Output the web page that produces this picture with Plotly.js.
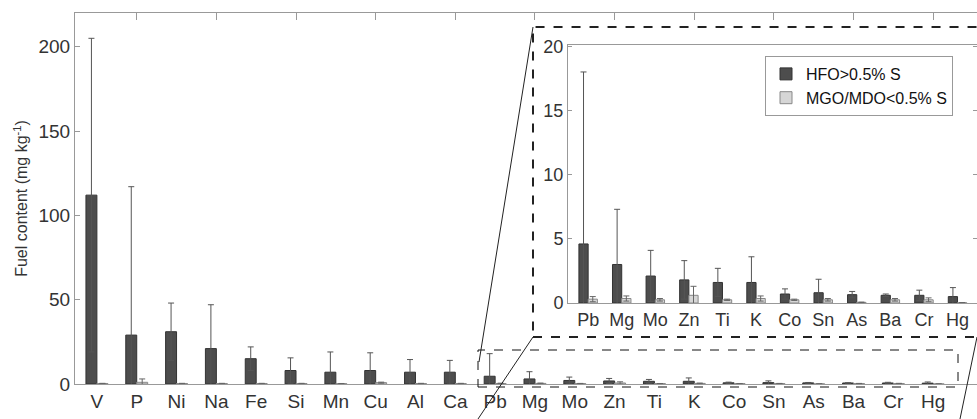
<!DOCTYPE html>
<html>
<head>
<meta charset="utf-8">
<script src="https://cdn.plot.ly/plotly-3.0.1.min.js"></script>
<style>html,body{margin:0;padding:0;background:#fff}#chart{width:977px;height:419px}</style>
</head>
<body>
<div id="chart"></div>
<script>
// Main panel: all elements
const elements = ['V', 'P', 'Ni', 'Na', 'Fe', 'Si', 'Mn', 'Cu', 'Al', 'Ca',
    'Pb', 'Mg', 'Mo', 'Zn', 'Ti', 'K', 'Co', 'Sn', 'As', 'Ba', 'Cr', 'Hg'];
const hfoMean = [112, 29, 31, 21, 15, 8, 7, 8, 7, 7,
    4.6, 3.0, 2.1, 1.8, 1.6, 1.6, 0.7, 0.8, 0.65, 0.6, 0.6, 0.5];
const hfoErr = [93, 88, 17, 26, 7, 7.5, 12, 10.5, 7.5, 7,
    13.4, 4.3, 2.0, 1.5, 1.1, 2.0, 0.4, 1.05, 0.25, 0.1, 0.4, 0.7];
const mgoMean = [0.3, 1.0, 0.3, 0.3, 0.3, 0.3, 0.2, 0.8, 0.3, 0.3,
    0.3, 0.35, 0.25, 0.6, 0.25, 0.35, 0.25, 0.25, 0.05, 0.25, 0.25, 0.02];
const mgoErr = [0.1, 2.0, 0.1, 0.1, 0.1, 0.1, 0.1, 0.3, 0.1, 0.1,
    0.2, 0.2, 0.1, 0.7, 0.05, 0.2, 0.05, 0.1, 0.02, 0.1, 0.15, 0.01];
const insetStart = 10; // Pb onwards

const idx = elements.map((_, i) => i + 1);
const insetIdx = idx.slice(insetStart).map(i => i - insetStart);

const hfoColor = '#4d4d4d', mgoColor = '#d6d6d6';
const errHfo = { type: 'data', visible: true, thickness: 1, width: 3, color: '#555' };
const errMgo = { type: 'data', visible: true, thickness: 1, width: 3, color: '#666' };

function barTrace(x, y, err, name, color, xa, ya, legend) {
    return {
        type: 'bar', x, y, name, xaxis: xa, yaxis: ya,
        marker: { color, line: { color: color === hfoColor ? '#333' : '#888', width: 1 } },
        error_y: { ...(color === hfoColor ? errHfo : errMgo), array: err },
        showlegend: legend, hoverinfo: 'skip'
    };
}

const traces = [
    barTrace(idx, hfoMean, hfoErr, 'HFO>0.5% S', hfoColor, 'x', 'y', false),
    barTrace(idx, mgoMean, mgoErr, 'MGO/MDO<0.5% S', mgoColor, 'x', 'y', false),
    barTrace(insetIdx, hfoMean.slice(insetStart), hfoErr.slice(insetStart), 'HFO>0.5% S', hfoColor, 'x2', 'y2', true),
    barTrace(insetIdx, mgoMean.slice(insetStart), mgoErr.slice(insetStart), 'MGO/MDO<0.5% S', mgoColor, 'x2', 'y2', true),
    { type: 'scatter', x: [], y: [], xaxis: 'x3', yaxis: 'y', showlegend: false }
];

const axisGrey = '#999';
const fam = 'Liberation Sans, Arial, sans-serif';
const tickFont = { family: fam, size: 19, color: '#333' };
const insetFont = { family: fam, size: 18, color: '#333' };
const W = 977, H = 419;
const px = v => v / W, py = v => 1 - v / H;

const layout = {
    width: W, height: H,
    margin: { l: 0, r: 0, t: 0, b: 0 },
    paper_bgcolor: '#fff', plot_bgcolor: 'rgba(0,0,0,0)',
    barmode: 'group', bargap: 0.45, bargroupgap: 0,
    font: tickFont,
    xaxis: {
        domain: [px(75), 1], range: [0.45, 23.1], tickvals: idx, ticktext: elements,
        ticks: '', showline: true, linecolor: axisGrey, showgrid: false, zeroline: false,
        anchor: 'y', tickfont: tickFont
    },
    xaxis3: {
        domain: [px(75), 1], range: [0.45, 23.1], overlaying: 'x', side: 'top', anchor: 'y',
        tickvals: [2, 4, 6, 8, 10, 12, 14, 16, 18, 20, 22], showticklabels: false,
        ticks: 'inside', ticklen: 7, tickcolor: axisGrey, showline: true, linecolor: axisGrey,
        showgrid: false, zeroline: false
    },
    yaxis: {
        domain: [py(384), py(13)], range: [0, 220], tickvals: [0, 50, 100, 150, 200],
        ticks: 'inside', ticklen: 5, tickcolor: axisGrey, showline: true, linecolor: axisGrey,
        showgrid: false, zeroline: false, tickfont: tickFont, anchor: 'x',
        title: { text: 'Fuel content (mg kg<sup>-1</sup>)', font: { family: fam, size: 16, color: '#333' }, standoff: 6 }
    },
    xaxis2: {
        domain: [px(568), 1], range: [0.4, 12.58], tickvals: insetIdx, ticktext: elements.slice(insetStart),
        ticks: '', showline: true, linecolor: axisGrey, mirror: true, showgrid: false, zeroline: false,
        anchor: 'y2', tickfont: insetFont
    },
    yaxis2: {
        domain: [py(303), py(45)], range: [0, 20.1], tickvals: [0, 5, 10, 15, 20],
        ticks: 'inside', ticklen: 4, tickcolor: axisGrey, showline: true, linecolor: axisGrey, mirror: 'ticks',
        showgrid: false, zeroline: false, anchor: 'x2', tickfont: insetFont
    },
    legend: {
        x: px(765), y: py(56), xanchor: 'left', yanchor: 'top',
        bgcolor: '#fff', bordercolor: '#999', borderwidth: 1,
        font: { family: fam, size: 16, color: '#111' },
        tracegroupgap: 0
    },
    shapes: [
        // white backing + dashed frame for the zoomed inset
        { type: 'rect', xref: 'paper', yref: 'paper', x0: px(533), x1: 1.01, y0: py(337), y1: py(27),
          fillcolor: '#fff', line: { color: '#222', width: 2, dash: 'dash' }, layer: 'below' },
        // dashed region on main panel
        { type: 'rect', xref: 'paper', yref: 'paper', x0: px(478), x1: px(958), y0: py(387), y1: py(350),
          line: { color: '#111', width: 1, dash: 'dash' } },
        // connector lines
        { type: 'line', xref: 'paper', yref: 'paper', x0: px(479), y0: py(362), x1: px(533), y1: py(27),
          line: { color: '#222', width: 1 } },
        { type: 'line', xref: 'paper', yref: 'paper', x0: px(478), y0: py(419), x1: px(533), y1: py(337),
          line: { color: '#222', width: 1 } },
        { type: 'line', xref: 'paper', yref: 'paper', x0: px(960), y0: py(419), x1: px(977), y1: py(337),
          line: { color: '#222', width: 1 } }
    ]
};

Plotly.newPlot('chart', traces, layout, { displayModeBar: false, staticPlot: true });
</script>
</body>
</html>
